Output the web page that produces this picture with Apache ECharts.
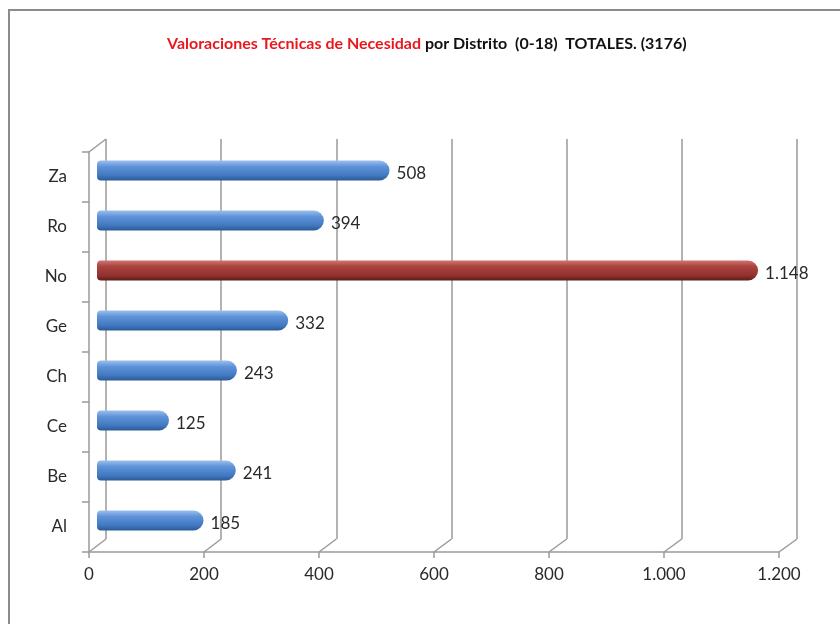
<!DOCTYPE html>
<html>
<head>
<meta charset="utf-8">
<script src="https://cdn.jsdelivr.net/npm/echarts@6/dist/echarts.min.js"></script>
<style>
html,body{margin:0;padding:0;background:#fff;}
#chart{width:840px;height:624px;}
</style>
</head>
<body>
<div id="chart"></div>
<script>
// datos por distrito (de abajo a arriba)
var distritos = ['Al', 'Be', 'Ce', 'Ch', 'Ge', 'No', 'Ro', 'Za'];
var valoraciones = [185, 241, 125, 243, 332, 1148, 394, 508];
var destacado = 'No';
var xTicks = [0, 200, 400, 600, 800, 1000, 1200];

var FONT = 'Lato, "Noto Sans", sans-serif';
var GRIS = '#9a9a9a';

function miles(v){
	return String(v).replace(/\B(?=(\d{3})+(?!\d))/g, '.');
}

var azul = new echarts.graphic.LinearGradient(0, 0, 0, 1, [
	{offset: 0, color: '#9cc0ee'},
	{offset: 0.3, color: '#5f93d9'},
	{offset: 0.75, color: '#4178c0'},
	{offset: 1, color: '#2b5a95'}
]);
var rojo = new echarts.graphic.LinearGradient(0, 0, 0, 1, [
	{offset: 0, color: '#cf7470'},
	{offset: 0.3, color: '#ab433f'},
	{offset: 0.75, color: '#92322f'},
	{offset: 1, color: '#5e1b19'}
]);

var barData = valoraciones.map(function(v, i){
	return {
		value: v,
		itemStyle: {color: distritos[i] === destacado ? rojo : azul}
	};
});

var myChart = echarts.init(document.getElementById('chart'));

var option = {
	animation: false,
	backgroundColor: '#fff',
	title: {
		left: 162,
		top: 31,
		text: '{r|Valoraciones Técnicas de Necesidad}{n| por Distrito  (0-18)  TOTALES. (3176)}',
		textStyle: {
			rich: {
				r: {color: '#e8191e', fontSize: 16, fontWeight: 'bold', fontFamily: FONT},
				n: {color: '#111', fontSize: 16, fontWeight: 'bold', fontFamily: FONT}
			}
		}
	},
	grid: [
		// plano frontal (ejes)
		{left: 89, right: 61, top: 152, bottom: 72},
		// pared del fondo (rejilla)
		{left: 106, right: 43, top: 139, bottom: 85},
		// plano medio (barras)
		{left: 97, right: 52, top: 145.5, bottom: 78.5}
	],
	xAxis: [
		{
			gridIndex: 0, type: 'value', min: 0, max: 1200, interval: 200,
			axisLine: {show: true, lineStyle: {color: GRIS, width: 1.5}},
			axisTick: {show: true, length: 6, lineStyle: {color: GRIS, width: 1.5}},
			splitLine: {show: false},
			axisLabel: {
				margin: 14, fontSize: 17, color: '#2a2a2a', fontFamily: FONT,
				formatter: function(v){ return miles(v); }
			}
		},
		{
			gridIndex: 1, type: 'value', min: 0, max: 1200, interval: 200,
			axisLine: {show: false}, axisTick: {show: false}, axisLabel: {show: false},
			splitLine: {show: true, lineStyle: {color: GRIS, width: 1.5}}
		},
		{
			gridIndex: 2, type: 'value', min: 0, max: 1200, interval: 200,
			show: false
		}
	],
	yAxis: [
		{
			gridIndex: 0, type: 'category', data: distritos,
			axisLine: {show: true, lineStyle: {color: GRIS, width: 1.5}},
			axisTick: {show: true, length: 7, lineStyle: {color: GRIS, width: 1.5}},
			axisLabel: {margin: 22, fontSize: 17, color: '#2a2a2a', fontFamily: FONT, padding: [8, 0, 0, 0]}
		},
		{gridIndex: 1, type: 'category', data: distritos, show: false},
		{gridIndex: 2, type: 'category', data: distritos, show: false}
	],
	series: [
		{
			type: 'bar',
			xAxisIndex: 2, yAxisIndex: 2,
			data: barData,
			barWidth: 20,
			itemStyle: {borderRadius: [4, 10, 10, 4]},
			label: {
				show: true, position: 'right', distance: 7, offset: [0, 3],
				fontSize: 17, color: '#2a2a2a', fontFamily: FONT,
				formatter: function(p){ return miles(p.value); }
			}
		}
	]
};

myChart.setOption(option);

// aristas 3D: suelo y pared izquierda
var rf = myChart.getModel().getComponent('grid', 0).coordinateSystem.getRect();
var rb = myChart.getModel().getComponent('grid', 1).coordinateSystem.getRect();
var lineas = [];
xTicks.forEach(function(t){
	var a = myChart.convertToPixel({gridIndex: 0}, [t, 0]);
	var b = myChart.convertToPixel({gridIndex: 1}, [t, 0]);
	lineas.push({
		type: 'line', silent: true,
		shape: {x1: a[0], y1: rf.y + rf.height, x2: b[0], y2: rb.y + rb.height},
		style: {stroke: GRIS, lineWidth: 1.5}
	});
});
lineas.push({
	type: 'line', silent: true,
	shape: {x1: rf.x, y1: rf.y, x2: rb.x, y2: rb.y},
	style: {stroke: GRIS, lineWidth: 1.5}
});
// marco
lineas.push({
	type: 'rect', silent: true,
	shape: {x: 9, y: 10, width: 900, height: 700},
	style: {fill: 'none', stroke: '#8c8c8c', lineWidth: 2}
});

myChart.setOption({graphic: lineas});
</script>
</body>
</html>
